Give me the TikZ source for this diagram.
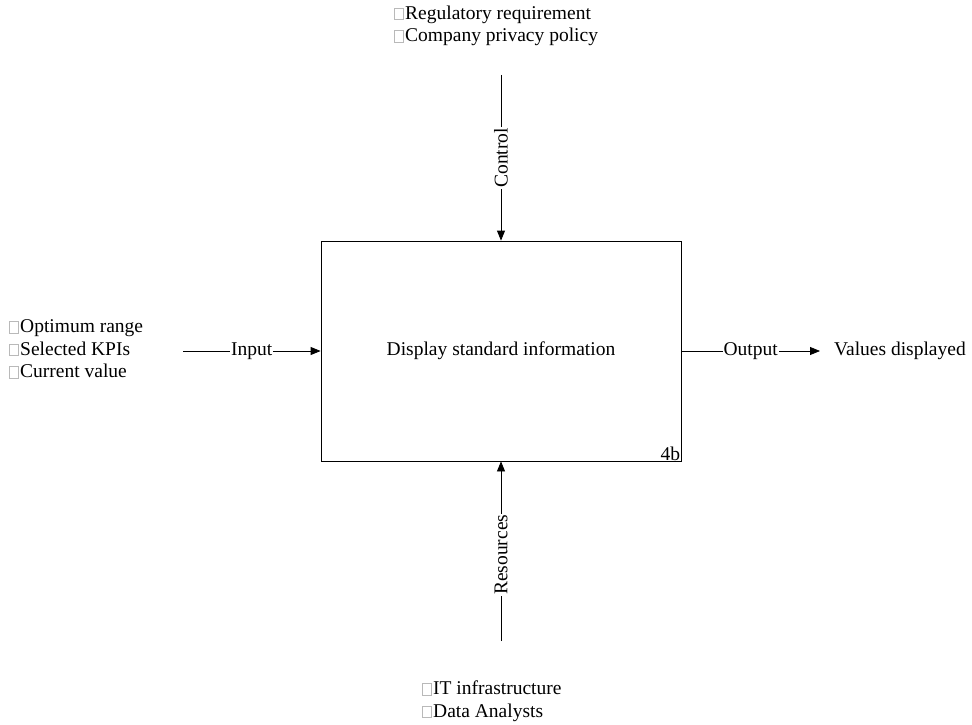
\documentclass[tikz,border=0pt]{standalone}
\usepackage{fontspec}
\setmainfont{Liberation Serif}
\usetikzlibrary{arrows.meta}
% hollow grey square used as list marker
\newcommand\listmark{{\color{gray!55}\setlength\fboxsep{0pt}\setlength\fboxrule{0.5pt}\fbox{\rule{0pt}{11pt}\hspace{8.5pt}}}\hspace{1.5pt}}
\begin{document}
\begin{tikzpicture}[x=1pt,y=-1pt,
  every node/.style={font=\fontsize{19.5}{22.5}\selectfont},
  conn/.style={line width=0.8pt,-{Triangle[length=10pt,width=8pt]}},
  lbl/.style={fill=white,inner sep=1pt},
  txt/.style={align=left,inner sep=0pt}]
\useasboundingbox (0,0) rectangle (972,725);
% function box
\node[draw,line width=0.8pt,minimum width=360pt,minimum height=220pt,inner sep=0pt] (box) at (501,351) {Display standard information};
\node[anchor=south east,inner sep=1pt] (num) at (box.south east) {4b};
% inputs
\node[txt,anchor=west] (inp) at (9,349) {\listmark Optimum range\\\listmark Selected KPIs\\\listmark Current value};
\coordinate (inS) at (183,351);
\draw[conn] (inS) -- node[lbl]{Input} (box.west);
% output
\coordinate (outE) at (820,351);
\draw[conn] (box.east) -- node[lbl]{Output} (outE);
\node[txt,anchor=west] (out) at (834,351) {Values displayed};
% controls
\node[txt,anchor=west] (ctl) at (394,26) {\listmark Regulatory requirement\\\listmark Company privacy policy};
\coordinate (ctS) at (501,75);
\draw[conn] (ctS) -- node[lbl,rotate=90]{Control} (box.north);
% resources
\node[txt,anchor=west] (res) at (422,701) {\listmark IT infrastructure\\\listmark Data Analysts};
\coordinate (reS) at (501,641);
\draw[conn] (reS) -- node[lbl,rotate=90,pos=0.48]{Resources} (box.south);
\end{tikzpicture}
\end{document}
